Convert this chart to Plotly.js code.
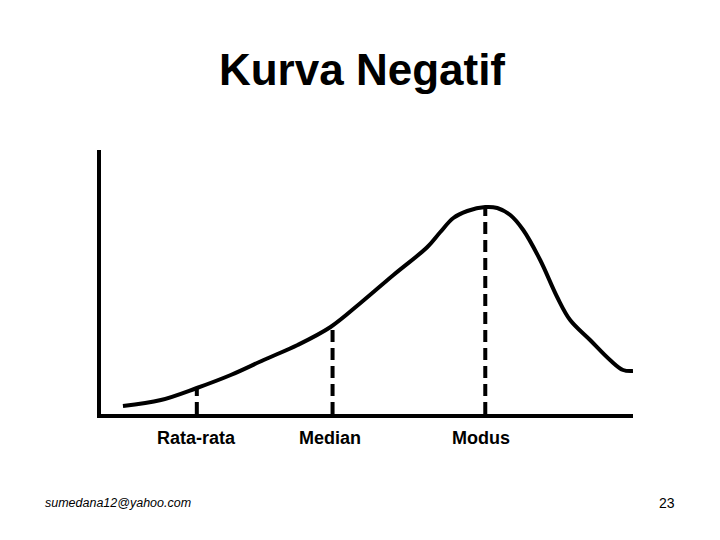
<!DOCTYPE html>
<html>
<head>
<meta charset="utf-8">
<script src="https://cdn.plot.ly/plotly-3.0.1.min.js"></script>
<style>html,body{margin:0;padding:0;background:#fff;}#chart{width:720px;height:540px;}</style>
</head>
<body>
<div id="chart"></div>
<script>
// Curve (arbitrary units: x along the axis, y height above baseline)
const curveX = [22, 60, 96, 130, 163, 197, 230, 260, 293, 327, 340, 353, 367, 385, 397, 410, 423, 440, 457, 470, 490, 510, 523, 533];
const curveY = [8, 14, 26, 39, 54, 69, 87, 111, 139, 167, 182, 196, 203, 207, 206, 199, 184, 154, 117, 94, 74, 54, 44, 43];

// Marker lines
const markLabels = ["Rata-rata", "Median", "Modus"];
const markX = [96, 232, 385];
const markY = [26, 88, 207];
const labelShift = [0, -3, -4];

const titleText = "Kurva Negatif";
const footerLeft = "sumedana12@yahoo.com";
const footerRight = "23";

const traces = [{
  x: curveX, y: curveY, mode: "lines", type: "scatter",
  line: {color: "#000", width: 4, shape: "spline", smoothing: 1},
  hoverinfo: "skip", showlegend: false
}];
markX.forEach((mx, i) => {
  traces.push({
    x: [mx, mx], y: [0, markY[i]], mode: "lines", type: "scatter",
    line: {color: "#000", width: 4, dash: "12px,6px"},
    hoverinfo: "skip", showlegend: false
  });
});

const yRange = [0, 264];
const annotations = markLabels.map((t, i) => ({
  text: "<b>" + t + "</b>", x: markX[i], y: -24 / yRange[1], xref: "x", yref: "paper",
  xanchor: "center", yanchor: "middle", xshift: labelShift[i],
  showarrow: false, font: {family: "Liberation Sans, Arial, sans-serif", size: 18, color: "#000"}
}));
annotations.push({
  text: footerLeft, xref: "paper", yref: "paper", x: (43 - 101) / 532, y: (414 - 503) / 264,
  xanchor: "left", yanchor: "middle", showarrow: false,
  font: {family: "Liberation Sans, Arial, sans-serif", size: 12.5, color: "#000", style: "italic"}
});
annotations.push({
  text: footerRight, xref: "paper", yref: "paper", x: (677 - 101) / 532, y: (414 - 503) / 264,
  xanchor: "right", yanchor: "middle", showarrow: false,
  font: {family: "Liberation Sans, Arial, sans-serif", size: 14, color: "#000"}
});

const layout = {
  width: 720, height: 540,
  paper_bgcolor: "#fff", plot_bgcolor: "#fff",
  margin: {l: 101, r: 87, t: 150, b: 126, pad: 0},
  title: {
    text: "<b>" + titleText + "</b>", xref: "paper", x: (362 - 101) / 532, xanchor: "center",
    yref: "container", y: 1 - 70 / 540, yanchor: "middle",
    font: {family: "Liberation Sans, Arial, sans-serif", size: 44, color: "#000"}
  },
  xaxis: {range: [0, 533], showgrid: false, zeroline: false, showticklabels: false, ticks: "",
          showline: true, linecolor: "#000", linewidth: 4, mirror: false, fixedrange: true},
  yaxis: {range: yRange, showgrid: false, zeroline: false, showticklabels: false, ticks: "",
          showline: true, linecolor: "#000", linewidth: 4, mirror: false, fixedrange: true},
  annotations: annotations,
  showlegend: false
};
Plotly.newPlot("chart", traces, layout, {staticPlot: true, displayModeBar: false});
</script>
</body>
</html>
